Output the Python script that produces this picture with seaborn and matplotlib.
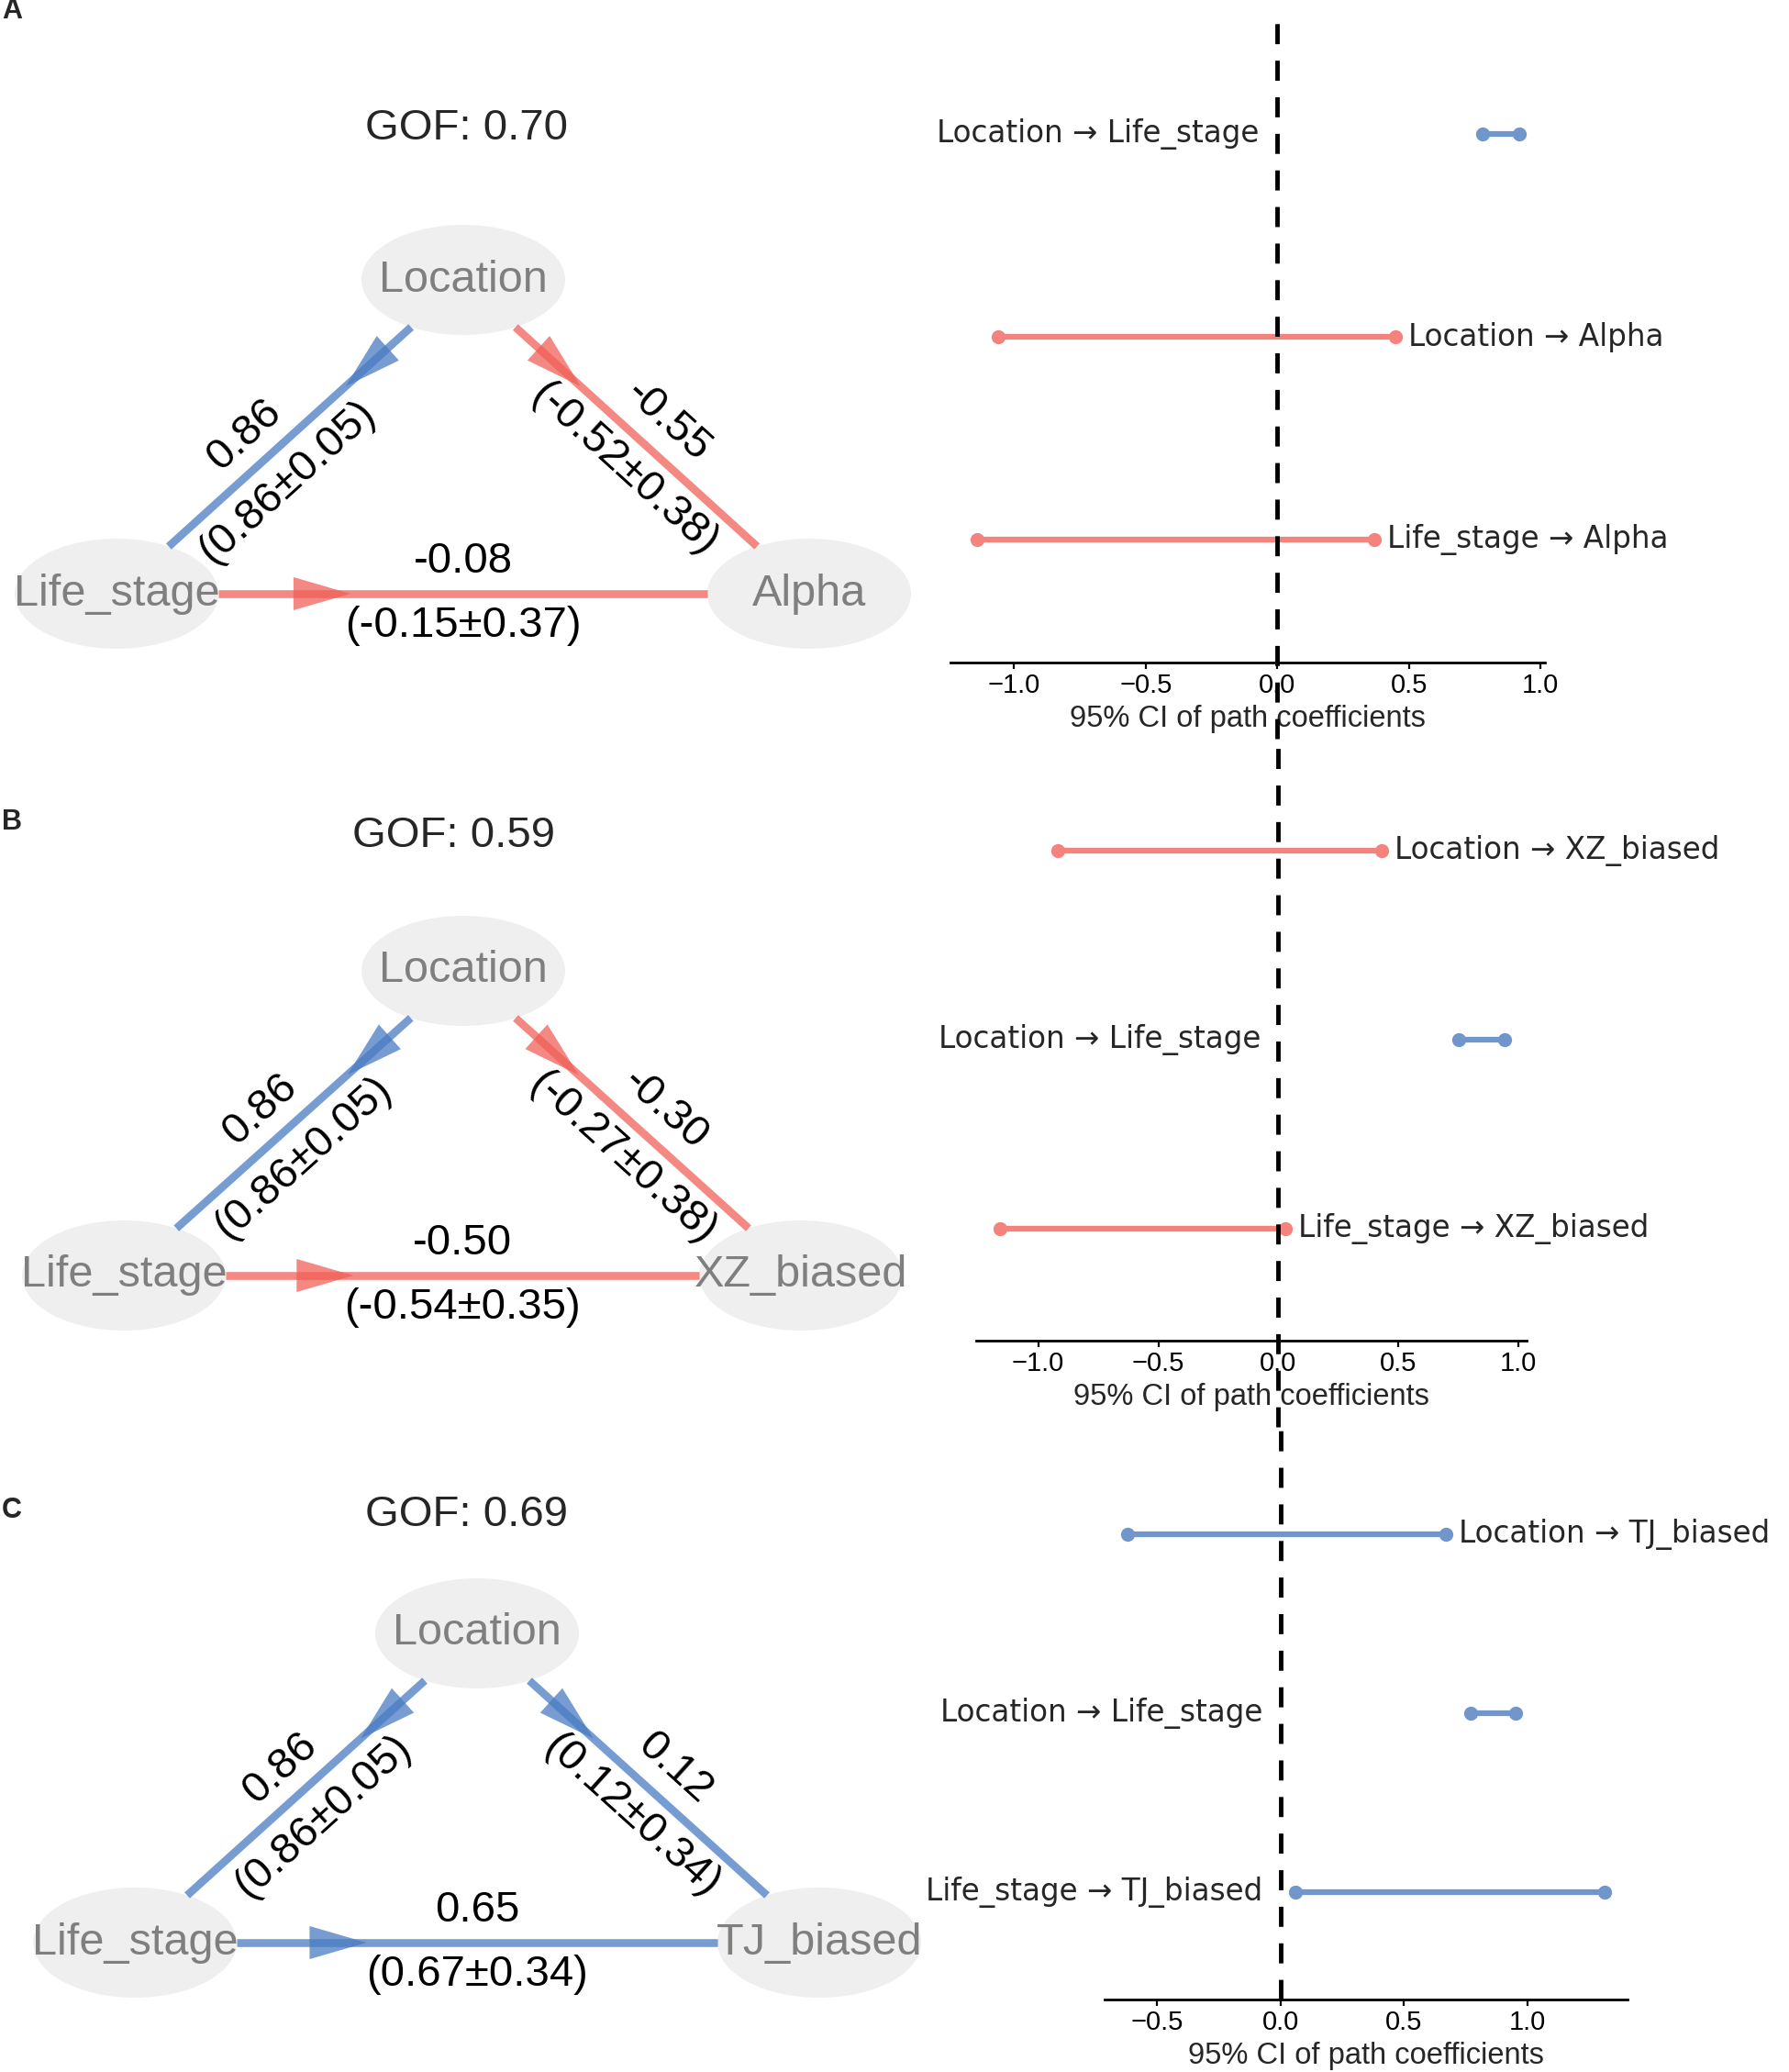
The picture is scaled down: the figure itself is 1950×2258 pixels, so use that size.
import numpy as np
import pandas as pd
import matplotlib
matplotlib.use("Agg")
import matplotlib.pyplot as plt
from matplotlib.patches import Ellipse, Polygon
import seaborn as sns

# ------------------------------------------------------------------ data
panel_letters = ["A", "B", "C"]
gof_values = [0.70, 0.59, 0.69]
node_top = "Location"
node_left = "Life_stage"
response_names = ["Alpha", "XZ_biased", "TJ_biased"]

# standardized path estimates and bootstrap mean ± sd
loc_life_est = [0.86, 0.86, 0.86]
loc_life_mean = [0.86, 0.86, 0.86]
loc_life_sd = [0.05, 0.05, 0.05]
loc_resp_est = [-0.55, -0.30, 0.12]
loc_resp_mean = [-0.52, -0.27, 0.12]
loc_resp_sd = [0.38, 0.38, 0.34]
life_resp_est = [-0.08, -0.50, 0.65]
life_resp_mean = [-0.15, -0.54, 0.67]
life_resp_sd = [0.37, 0.35, 0.34]

# 95% CI of path coefficients (rows top to bottom)
ci_paths_A = ["Location → Life_stage", "Location → Alpha", "Life_stage → Alpha"]
ci_low_A = [0.78, -1.06, -1.14]
ci_high_A = [0.92, 0.45, 0.37]

ci_paths_B = ["Location → XZ_biased", "Location → Life_stage", "Life_stage → XZ_biased"]
ci_low_B = [-0.92, 0.75, -1.16]
ci_high_B = [0.43, 0.94, 0.03]

ci_paths_C = ["Location → TJ_biased", "Location → Life_stage", "Life_stage → TJ_biased"]
ci_low_C = [-0.62, 0.77, 0.06]
ci_high_C = [0.67, 0.95, 1.31]

ci_ticks_A = [-1.0, -0.5, 0.0, 0.5, 1.0]
ci_ticks_B = [-1.0, -0.5, 0.0, 0.5, 1.0]
ci_ticks_C = [-0.5, 0.0, 0.5, 1.0]

# ------------------------------------------------------------------ style
RED = "#F16058"
BLUE = "#497BC3"
CI_RED = "#F4837D"
CI_BLUE = "#7096CB"
NODE_FILL = "#EFEFEF"
NODE_TEXT = "#7F7F7F"

sns.set_theme(style="white")
plt.rcParams["font.family"] = ["Liberation Sans", "DejaVu Sans"]
plt.rcParams["axes.unicode_minus"] = True

W_PX, H_PX = 1950, 2258
fig = plt.figure(figsize=(W_PX / 100, H_PX / 100), dpi=100)
fig.patch.set_facecolor("white")

# background axes in pixel units for the path diagrams
bg = fig.add_axes([0, 0, 1, 1])
bg.set_xlim(0, W_PX)
bg.set_ylim(H_PX, 0)
bg.axis("off")

# layout (pixel positions) per panel
layouts = [
    dict(top=(505, 305), left=(127, 647), right=(882, 647), gof=(508, 140), letter=(2, 12),
         frac=(0.60, 0.54), box=(1036, 12, 1684, 722), xlim=(-1.242, 1.017), margin=0.606,
         vext=(-0.117, 1.0)),
    dict(top=(505, 1058), left=(135, 1390), right=(873, 1390), gof=(495, 911), letter=(2, 896),
         frac=(0.55, 0.55), box=(1064, 805, 1664, 1461), xlim=(-1.258, 1.033), margin=0.592,
         vext=(-0.143, 1.0)),
    dict(top=(520, 1780), left=(147, 2117), right=(893, 2117), gof=(508, 1651), letter=(2, 1646),
         frac=(0.52, 0.52), box=(1204, 1555, 1774, 2179), xlim=(-0.712, 1.404), margin=0.6,
         vext=(0.0, 1.0)),
]

EW, EH = 222, 120          # node ellipse size
A_, B_ = EW / 2, EH / 2
HEAD_L, HEAD_W = 62, 18    # arrow head length / half width
OFF = 35                   # label offset from edge


def draw_edge(p_from, p_to, est, mean, sd, frac=0.5):
    color = RED if est < 0 else BLUE
    p0, p1 = np.array(p_from, float), np.array(p_to, float)
    d = p1 - p0
    t = 1.0 / np.sqrt((d[0] / A_) ** 2 + (d[1] / B_) ** 2)
    s, e = p0 + d * t, p1 - d * t
    bg.plot([s[0], e[0]], [s[1], e[1]], color=color, lw=6.2, alpha=0.75,
            solid_capstyle="butt", zorder=2)
    v = e - s
    u = v / np.hypot(*v)
    tip = s + 0.27 * v
    base = tip - u * HEAD_L
    nrm = np.array([-u[1], u[0]])
    bg.add_patch(Polygon([tip, base + nrm * HEAD_W, base - nrm * HEAD_W], closed=True,
                         facecolor=color, edgecolor="none", alpha=0.75, zorder=2))
    mid = s + frac * v
    theta = np.degrees(np.arctan2(-v[1], v[0]))
    if theta > 90:
        theta -= 180
    elif theta < -90:
        theta += 180
    th = np.radians(theta)
    up = np.array([-np.sin(th), -np.cos(th)])
    p_up, p_dn = mid + up * OFF, mid - up * OFF
    bg.text(p_up[0], p_up[1], f"{est:.2f}", rotation=theta, rotation_mode="anchor",
            ha="center", va="center", fontsize=34, color="black", zorder=4)
    bg.text(p_dn[0], p_dn[1], f"({mean:.2f}±{sd:.2f})", rotation=theta, rotation_mode="anchor",
            ha="center", va="center", fontsize=34, color="black", zorder=4)


ci_sets = [
    (ci_paths_A, ci_low_A, ci_high_A, ci_ticks_A),
    (ci_paths_B, ci_low_B, ci_high_B, ci_ticks_B),
    (ci_paths_C, ci_low_C, ci_high_C, ci_ticks_C),
]

for i, lay in enumerate(layouts):
    # panel letter and GOF
    bg.text(*lay["letter"], panel_letters[i], fontsize=22, fontweight="bold",
            ha="left", va="center")
    bg.text(*lay["gof"], f"GOF: {gof_values[i]:.2f}", fontsize=34, ha="center", va="center")

    # nodes
    names = {"top": node_top, "left": node_left, "right": response_names[i]}
    for key in ["top", "left", "right"]:
        cx, cy = lay[key]
        bg.add_patch(Ellipse((cx, cy), EW, EH, facecolor=NODE_FILL, edgecolor="none", zorder=1))
        bg.text(cx, cy, names[key], fontsize=35, color=NODE_TEXT, ha="center", va="center", zorder=3)

    # edges
    draw_edge(lay["top"], lay["left"], loc_life_est[i], loc_life_mean[i], loc_life_sd[i],
              frac=lay["frac"][0])
    draw_edge(lay["top"], lay["right"], loc_resp_est[i], loc_resp_mean[i], loc_resp_sd[i],
              frac=lay["frac"][1])
    draw_edge(lay["left"], lay["right"], life_resp_est[i], life_resp_mean[i], life_resp_sd[i])

    # CI forest panel
    paths, low, high, ticks = ci_sets[i]
    x0, y0, x1, y1 = lay["box"]
    ax = fig.add_axes([x0 / W_PX, 1 - y1 / H_PX, (x1 - x0) / W_PX, (y1 - y0) / H_PX])
    ax.patch.set_alpha(0)
    n = len(paths)
    df = pd.DataFrame({
        "path": paths + paths,
        "row": list(range(n)) * 2,
        "value": low + high,
        "sign": ["neg" if (l + h) < 0 else "pos" for l, h in zip(low, high)] * 2,
    })
    sns.lineplot(data=df, x="value", y="row", units="path", estimator=None, sort=False,
                 hue="sign", palette={"neg": CI_RED, "pos": CI_BLUE}, marker="o",
                 markersize=11, markeredgewidth=0, lw=4.5, legend=False, ax=ax)
    ax.axvline(0, ymin=lay["vext"][0], ymax=lay["vext"][1], color="black", lw=3.5,
               linestyle=(0, (4.5, 3.7)), clip_on=False, zorder=5)
    for r, (p, l, h) in enumerate(zip(paths, low, high)):
        if l > 0:
            ax.annotate(p, xy=(0, r), xytext=(-14, 0), textcoords="offset points",
                        ha="right", va="center", fontsize=23.5, annotation_clip=False,
                        family=["DejaVu Sans"])
        else:
            ax.annotate(p, xy=(h, r), xytext=(10, 0), textcoords="offset points",
                        ha="left", va="center", fontsize=23.5, annotation_clip=False,
                        family=["DejaVu Sans"])
    ax.set_xlim(*lay["xlim"])
    ax.set_ylim(n - 1 + lay["margin"], -lay["margin"])
    ax.set_xticks(ticks)
    ax.set_yticks([])
    ax.set_ylabel("")
    ax.set_xlabel("95% CI of path coefficients", fontsize=23.5, labelpad=5)
    ax.tick_params(axis="x", direction="out", length=5, width=1.6, pad=3, labelsize=21,
                   bottom=True, colors="black")
    sns.despine(ax=ax, left=True, top=True, right=True)
    ax.spines["bottom"].set_linewidth(2)
    ax.spines["bottom"].set_color("black")

fig.savefig("out.png", dpi=100, facecolor="white")
